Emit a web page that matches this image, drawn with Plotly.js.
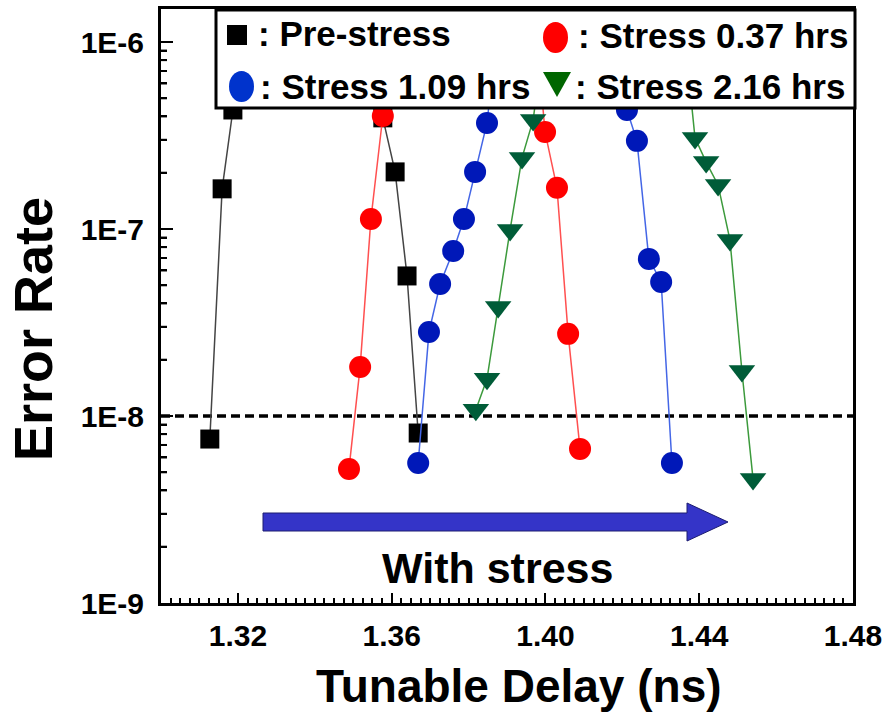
<!DOCTYPE html>
<html>
<head>
<meta charset="utf-8">
<script src="https://cdn.plot.ly/plotly-3.0.1.min.js"></script>
<style>html,body{margin:0;padding:0;background:#fff;}#chart{width:886px;height:716px;}</style>
</head>
<body>
<div id="chart"></div>
<script>
// ---- Data (points above ~1E-6 are hidden behind the legend) ----
var preX = [1.3127, 1.3159, 1.3187, 1.3220, 1.3545, 1.3577, 1.3609, 1.3640, 1.3669];
var preY = [7.53e-9, 1.64e-7, 4.33e-7, 1.2e-6, 1.2e-6, 3.93e-7, 2.02e-7, 5.61e-8, 8.11e-9];

var s037X = [1.3489, 1.3518, 1.3546, 1.3577, 1.3610, 1.3975, 1.3999, 1.4030, 1.4059, 1.4090];
var s037Y = [5.21e-9, 1.83e-8, 1.13e-7, 4.02e-7, 1.2e-6, 1.2e-6, 3.30e-7, 1.66e-7, 2.75e-8, 6.67e-9];

var s109X = [1.3669, 1.3697, 1.3726, 1.3760, 1.3788, 1.3817, 1.3848, 1.3875, 1.4185, 1.4212, 1.4238, 1.4269, 1.4301, 1.4329];
var s109Y = [5.61e-9, 2.81e-8, 5.08e-8, 7.62e-8, 1.13e-7, 2.02e-7, 3.69e-7, 1.2e-6, 1.2e-6, 4.33e-7, 2.96e-7, 6.92e-8, 5.21e-8, 5.61e-9];

var s216X = [1.3819, 1.3848, 1.3877, 1.3908, 1.3939, 1.3968, 1.4000, 1.4360, 1.4389, 1.4418, 1.4449, 1.4480, 1.4511, 1.4540];
var s216Y = [1.08e-8, 1.58e-8, 3.83e-8, 9.89e-8, 2.40e-7, 3.83e-7, 1.2e-6, 1.2e-6, 3.07e-7, 2.28e-7, 1.72e-7, 8.73e-8, 1.74e-8, 4.60e-9];

var thresholdX = [1.30, 1.48];
var thresholdY = [1e-8, 1e-8];

var xTickVals = [1.32, 1.36, 1.40, 1.44, 1.48];
var xTickText = ['1.32', '1.36', '1.40', '1.44', '1.48'];
var yTickVals = [1e-9, 1e-8, 1e-7, 1e-6];
var yTickText = ['1E-9', '1E-8', '1E-7', '1E-6'];

var seriesNames = [': Pre-stress', ': Stress 0.37 hrs', ': Stress 1.09 hrs', ': Stress 2.16 hrs'];
var xTitle = 'Tunable Delay (ns)';
var yTitle = 'Error Rate';

// minor log ticks 2..9 in each decade
var yMinorVals = [];
[-9, -8, -7, -6].forEach(function (d) {
  for (var k = 2; k <= 9; k++) yMinorVals.push(k * Math.pow(10, d));
});

// ---- Geometry helpers (pixel -> paper) ----
var W = 886, H = 716, ML = 161, MR = 33, MT = 9, MB = 113;
var PW = W - ML - MR, PH = H - MT - MB;
function px(x) { return (x - ML) / PW; }
function py(y) { return (H - MB - y) / PH; }

var FONT = 'Liberation Sans, Arial, Helvetica, sans-serif';
var YRANGE = [-9, -5.8235];
function yPaper(v) { return (Math.log10(v) - YRANGE[0]) / (YRANGE[1] - YRANGE[0]); }

function series(x, y, name, lineColor, markerColor, symbol, size) {
  return {
    x: x, y: y, name: name, type: 'scatter', mode: 'lines+markers',
    line: {color: lineColor, width: 1.5},
    marker: {color: markerColor, symbol: symbol, size: size, line: {width: 0}},
    showlegend: false, cliponaxis: true
  };
}

var traces = [
  {x: thresholdX, y: thresholdY, type: 'scatter', mode: 'lines', showlegend: false,
   line: {color: '#000', width: 3.5, dash: '9px,5px'}, hoverinfo: 'skip'},
  series(preX, preY, seriesNames[0], '#444444', '#000000', 'square', 19),
  series(s037X, s037Y, seriesNames[1], '#ff5050', '#ff0000', 'circle', 22),
  series(s109X, s109Y, seriesNames[2], '#4466e6', '#0018b8', 'circle', 22),
  series(s216X, s216Y, seriesNames[3], '#3c9a3c', '#005c38', 'triangle-down', 23)
];

// ---- Custom legend box (drawn above data) ----
var shapes = [
  {type: 'rect', xref: 'paper', yref: 'paper', layer: 'above',
   x0: px(216), x1: px(855), y0: py(108), y1: py(10),
   fillcolor: '#ffffff', line: {color: '#000', width: 3}},
  {type: 'rect', xref: 'paper', yref: 'paper', layer: 'above',
   x0: px(227), x1: px(247), y0: py(45), y1: py(25),
   fillcolor: '#000000', line: {width: 0}},
  {type: 'circle', xref: 'paper', yref: 'paper', layer: 'above',
   x0: px(543), x1: px(568), y0: py(53), y1: py(22),
   fillcolor: '#ff0000', line: {width: 0}},
  {type: 'circle', xref: 'paper', yref: 'paper', layer: 'above',
   x0: px(229), x1: px(254), y0: py(102), y1: py(71),
   fillcolor: '#0033cc', line: {width: 0}},
  {type: 'path', xref: 'paper', yref: 'paper', layer: 'above',
   path: 'M ' + px(543) + ' ' + py(72) + ' L ' + px(571) + ' ' + py(72) + ' L ' + px(557) + ' ' + py(97) + ' Z',
   fillcolor: '#006600', line: {width: 0}},
  // "With stress" arrow
  {type: 'path', xref: 'paper', yref: 'paper', layer: 'above',
   path: 'M ' + px(263) + ' ' + py(513) + ' L ' + px(687) + ' ' + py(513) + ' L ' + px(687) + ' ' + py(503) +
         ' L ' + px(728) + ' ' + py(522) + ' L ' + px(687) + ' ' + py(541) + ' L ' + px(687) + ' ' + py(531) +
         ' L ' + px(263) + ' ' + py(531) + ' Z',
   fillcolor: '#3434c8', line: {color: '#1c1c70', width: 1}}
];

// left-axis inside ticks (major + log minor), drawn as axis decorations
yTickVals.forEach(function (v) {
  if (v <= 1e-9) return;
  shapes.push({type: 'line', xref: 'paper', yref: 'paper', layer: 'above',
    x0: 0, x1: 12 / PW, y0: yPaper(v), y1: yPaper(v), line: {color: '#000', width: 2}});
});
yMinorVals.forEach(function (v) {
  if (Math.log10(v) > YRANGE[1]) return;
  shapes.push({type: 'line', xref: 'paper', yref: 'paper', layer: 'above',
    x0: 0, x1: 6 / PW, y0: yPaper(v), y1: yPaper(v), line: {color: '#000', width: 2}});
});

var legFont = {family: FONT, size: 35, color: '#000', weight: 'bold'};
var annotations = [
  {xref: 'paper', yref: 'paper', x: px(256), y: py(34), xanchor: 'left', yanchor: 'middle', text: seriesNames[0], showarrow: false, font: legFont},
  {xref: 'paper', yref: 'paper', x: px(576), y: py(36), xanchor: 'left', yanchor: 'middle', text: seriesNames[1], showarrow: false, font: legFont},
  {xref: 'paper', yref: 'paper', x: px(258), y: py(86), xanchor: 'left', yanchor: 'middle', text: seriesNames[2], showarrow: false, font: legFont},
  {xref: 'paper', yref: 'paper', x: px(573), y: py(86), xanchor: 'left', yanchor: 'middle', text: seriesNames[3], showarrow: false, font: legFont},
  {xref: 'paper', yref: 'paper', x: px(497), y: py(568), xanchor: 'center', yanchor: 'middle', text: 'With stress', showarrow: false,
   font: {family: FONT, size: 43, color: '#000', weight: 'bold'}},
  // axis titles
  {xref: 'paper', yref: 'paper', x: px(519), y: py(686), xanchor: 'center', yanchor: 'middle', text: xTitle, showarrow: false,
   font: {family: FONT, size: 46, color: '#000', weight: 'bold'}},
  {xref: 'paper', yref: 'paper', x: px(33), y: py(329), xanchor: 'center', yanchor: 'middle', text: yTitle, showarrow: false,
   textangle: -90, font: {family: FONT, size: 54, color: '#000', weight: 'bold'}}
];

var tickFont = {family: FONT, size: 30, color: '#000', weight: 'bold'};
var layout = {
  width: W, height: H,
  margin: {l: ML, r: MR, t: MT, b: MB, pad: 0},
  paper_bgcolor: '#fff', plot_bgcolor: '#fff',
  showlegend: false,
  xaxis: {
    range: [1.30, 1.48], tickvals: xTickVals, ticktext: xTickText,
    ticks: 'inside', ticklen: 10, tickwidth: 2, tickcolor: '#000',
    showline: true, linewidth: 3, linecolor: '#000', mirror: true,
    showgrid: false, zeroline: false, tickfont: tickFont, ticklabelstandoff: 4,
    minor: {ticks: 'inside', ticklen: 5, tickwidth: 2, tickcolor: '#000', dtick: 0.0025, tick0: 1.30, showgrid: false}
  },
  yaxis: {
    type: 'log', range: YRANGE, tickvals: yTickVals, ticktext: yTickText,
    ticks: 'inside', ticklen: 12, tickwidth: 2, tickcolor: '#000',
    showline: true, linewidth: 3, linecolor: '#000', mirror: true,
    showgrid: false, zeroline: false, tickfont: tickFont, ticklabelstandoff: 8,
    minor: {ticks: 'inside', ticklen: 6, tickwidth: 2, tickcolor: '#000', tickvals: yMinorVals, showgrid: false}
  },
  shapes: shapes,
  annotations: annotations
};

Plotly.newPlot('chart', traces, layout, {displayModeBar: false, staticPlot: true});
</script>
</body>
</html>
